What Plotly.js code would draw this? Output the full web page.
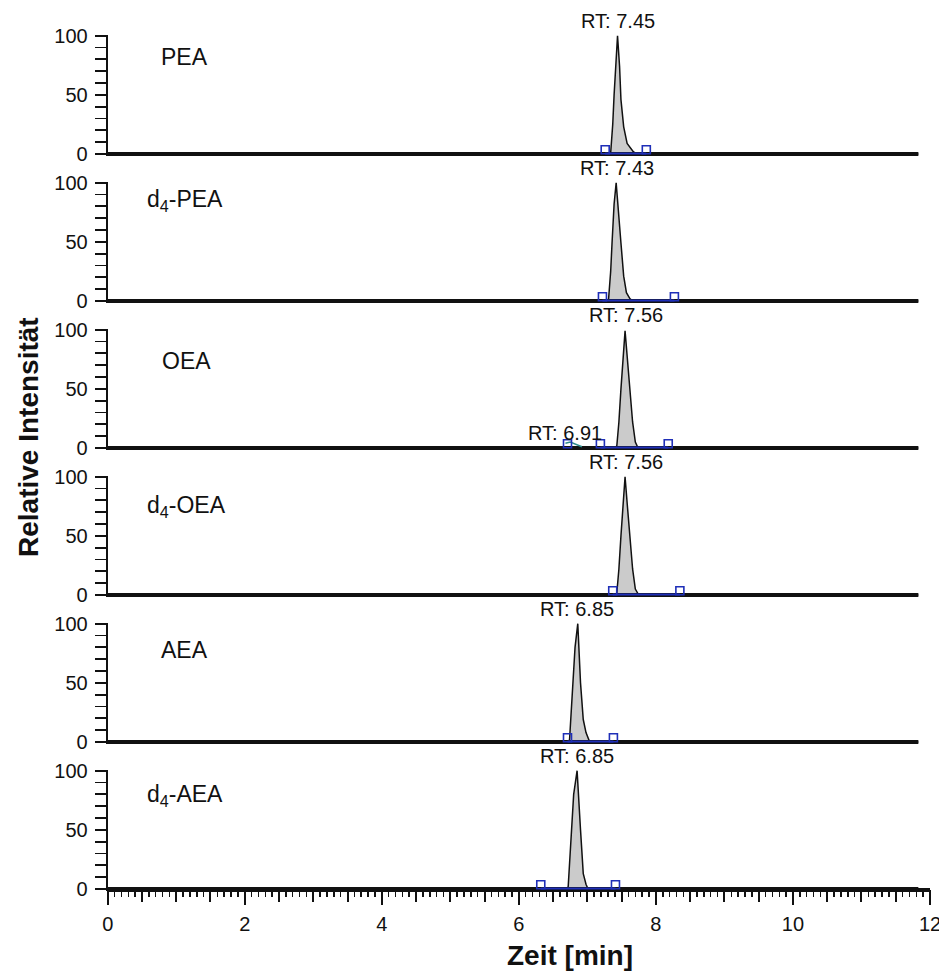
<!DOCTYPE html>
<html><head><meta charset="utf-8">
<script src="https://cdn.plot.ly/plotly-3.0.1.min.js"></script>
<style>html,body{margin:0;padding:0;background:#fff}#chart{width:939px;height:972px}</style>
</head><body><div id="chart"></div>
<script>
// ---- data ----
const compounds = ['PEA', 'd<sub>4</sub>-PEA', 'OEA', 'd<sub>4</sub>-OEA', 'AEA', 'd<sub>4</sub>-AEA'];
const rtLabels = ['RT: 7.45', 'RT: 7.43', 'RT: 7.56', 'RT: 7.56', 'RT: 6.85', 'RT: 6.85'];
const rtValues = [7.45, 7.43, 7.56, 7.56, 6.85, 6.85];

const peaTime   = [0, 7.30, 7.34, 7.37, 7.39, 7.42, 7.44, 7.47, 7.49, 7.53, 7.58, 7.67, 7.72, 11.83];
const peaInt    = [0, 0,    1,    25,   50,   85,   100,  74,   46,   23,   9,    2,    0,    0];
const d4peaTime = [0, 7.29, 7.31, 7.34, 7.36, 7.39, 7.42, 7.45, 7.49, 7.53, 7.57, 7.62, 7.66, 11.83];
const d4peaInt  = [0, 0,    2,    25,   49,   82,   100,  75,   49,   21,   7,    2,    0,    0];
const oeaTime   = [0, 7.41, 7.43, 7.46, 7.49, 7.52, 7.55, 7.58, 7.62, 7.66, 7.70, 7.74, 11.83];
const oeaInt    = [0, 0,    2,    22,   50,   80,   99,   78,   50,   22,   5,    0,    0];
const d4oeaTime = [0, 7.41, 7.43, 7.46, 7.49, 7.52, 7.55, 7.58, 7.62, 7.66, 7.70, 7.75, 11.83];
const d4oeaInt  = [0, 0,    2,    22,   50,   80,   100,  78,   50,   22,   5,    0,    0];
const aeaTime   = [0, 6.72, 6.74, 6.76, 6.79, 6.82, 6.86, 6.88, 6.90, 6.94, 6.98, 7.02, 7.05, 11.83];
const aeaInt    = [0, 0,    2,    22,   50,   80,   100,  75,   50,   19,   8,    2,    0,    0];
const d4aeaTime = [0, 6.70, 6.72, 6.74, 6.77, 6.80, 6.85, 6.87, 6.90, 6.94, 6.98, 7.01, 11.83];
const d4aeaInt  = [0, 0,    2,    22,   50,   80,   100,  75,   50,   13,   4,    0,    0];

// integration boundary markers (min) and integrated baseline segment
const boundaryMarks = [[7.26, 7.86], [7.22, 8.27], [6.71, 7.19, 8.18], [7.37, 8.35], [6.71, 7.38], [6.32, 7.41]];
const baselineSegs  = [[7.26, 7.86], [7.22, 8.27], [7.19, 8.18], [7.37, 8.35], [6.71, 7.38], [6.32, 7.41]];

// minor peak in OEA trace
const minorPeakLabel = 'RT: 6.91';
const minorPeakRT = 6.91;
const minorPeakTime = [6.68, 6.75, 6.92];
const minorPeakInt  = [4, 5, 1];

const xTickVals = [0, 2, 4, 6, 8, 10, 12];
const xTickText = ['0', '2', '4', '6', '8', '10', '12'];
const yTickVals = [0, 50, 100];

const times = [peaTime, d4peaTime, oeaTime, d4oeaTime, aeaTime, d4aeaTime];
const ints  = [peaInt, d4peaInt, oeaInt, d4oeaInt, aeaInt, d4aeaInt];

// ---- layout geometry ----
const W = 939, H = 972;
const zeroPx = [154, 301, 448, 595, 742, 889];
const pxPerUnit = 1.183;
const yLo = -1.8, yHi = 100.8;
const namePx = [[184, 56.5], [185, 200.5], [186, 361], [186, 506], [184, 650], [185, 796]];
const xDom = [107.7 / W, 930 / W];
const FONT = 'Liberation Sans, Arial, Helvetica, sans-serif';
const INK = '#111111';
const BLUE = '#1f2fb8';

const traces = [];
const layout = {
  width: W, height: H,
  margin: {l: 0, r: 0, t: 0, b: 0},
  paper_bgcolor: '#ffffff', plot_bgcolor: 'rgba(0,0,0,0)',
  showlegend: false,
  font: {family: FONT, color: INK, size: 20},
  annotations: []
};

for (let i = 0; i < 6; i++) {
  const n = i + 1;
  const xa = 'x' + n, ya = 'y' + n;
  const t = times[i], v = ints[i];
  // peak (filled)
  traces.push({x: t, y: v, xaxis: xa, yaxis: ya, type: 'scatter', mode: 'lines',
    fill: 'tozeroy', fillcolor: '#cbcbcb', line: {color: INK, width: 1.5},
    cliponaxis: false, hoverinfo: 'skip'});
  // thick baseline of the trace
  traces.push({x: [t[0], t[t.length - 1]], y: [0, 0], xaxis: xa, yaxis: ya, type: 'scatter',
    mode: 'lines', line: {color: INK, width: 4}, cliponaxis: false, hoverinfo: 'skip'});
  if (i === 2) {
    traces.push({x: minorPeakTime, y: minorPeakInt, xaxis: xa, yaxis: ya, type: 'scatter',
      mode: 'lines', line: {color: '#2e8b8b', width: 1.5}, cliponaxis: false, hoverinfo: 'skip'});
  }
  // integrated baseline (blue)
  traces.push({x: baselineSegs[i], y: [0.4, 0.4], xaxis: xa, yaxis: ya, type: 'scatter',
    mode: 'lines', line: {color: BLUE, width: 2.2}, cliponaxis: false, hoverinfo: 'skip'});
  // boundary markers
  traces.push({x: boundaryMarks[i], y: boundaryMarks[i].map(() => 3.6), xaxis: xa, yaxis: ya,
    type: 'scatter', mode: 'markers', cliponaxis: false, hoverinfo: 'skip',
    marker: {symbol: 'square-open', size: 8, color: BLUE, line: {color: BLUE, width: 1.6}}});

  const bottomPx = zeroPx[i] - yLo * pxPerUnit;
  const topPx = zeroPx[i] - yHi * pxPerUnit;
  layout['yaxis' + n] = {
    domain: [(H - bottomPx) / H, (H - topPx) / H], range: [yLo, yHi], anchor: xa,
    showline: true, linecolor: INK, linewidth: 2,
    ticks: 'outside', ticklen: 11, tickwidth: 2, tickcolor: INK,
    tickvals: yTickVals, ticktext: yTickVals.map(String), ticklabelstandoff: 3,
    tickfont: {family: FONT, size: 20, color: INK},
    minor: {tickvals: [10, 20, 30, 40, 60, 70, 80, 90], ticks: 'outside', ticklen: 11, tickwidth: 1.8, tickcolor: INK},
    showgrid: false, zeroline: false, fixedrange: true
  };
  if (i < 5) {
    layout['xaxis' + n] = {domain: xDom, range: [0, 12], anchor: ya, visible: false, fixedrange: true};
  } else {
    layout['xaxis' + n] = {
      domain: xDom, range: [0, 12], anchor: 'free', position: (H - zeroPx[i]) / H,
      layer: 'below traces',
      showline: true, linecolor: INK, linewidth: 3.5,
      ticks: 'outside', dtick: 0.5, tick0: 0, ticklen: 10, tickwidth: 2, tickcolor: INK,
      showticklabels: false,
      minor: {dtick: 0.1, tick0: 0, ticks: 'outside', ticklen: 5, tickwidth: 1.5, tickcolor: INK},
      showgrid: false, zeroline: false, fixedrange: true
    };
  }

  // compound name
  layout.annotations.push({xref: 'paper', yref: 'paper', x: namePx[i][0] / W, y: (H - namePx[i][1]) / H,
    xanchor: 'center', yanchor: 'middle', text: compounds[i], showarrow: false,
    font: {family: FONT, size: 23, color: INK}});
  // RT label
  layout.annotations.push({xref: xa, yref: ya, x: rtValues[i], y: 100, xanchor: 'center', yanchor: 'bottom',
    yshift: 2, text: rtLabels[i], showarrow: false, font: {family: FONT, size: 20, color: INK}});
}

// minor peak label in OEA panel
layout.annotations.push({xref: 'x3', yref: 'y3', x: minorPeakRT, y: 0, xanchor: 'center', yanchor: 'bottom',
  xshift: -16, yshift: 2, text: minorPeakLabel, showarrow: false, font: {family: FONT, size: 20, color: INK}});

// major x ticks with labels on an overlaying axis
layout.xaxis7 = {
  overlaying: 'x6', anchor: 'free', position: (H - zeroPx[5]) / H, range: [0, 12], domain: xDom,
  layer: 'below traces',
  ticks: 'outside', tickvals: xTickVals, ticktext: xTickText, ticklen: 15, tickwidth: 2.2, tickcolor: INK,
  showline: false, showgrid: false, zeroline: false, ticklabelstandoff: 2, ticklabeloverflow: 'allow',
  tickfont: {family: FONT, size: 20, color: INK}, fixedrange: true
};
traces.push({x: [null], y: [null], xaxis: 'x7', yaxis: 'y6', type: 'scatter', mode: 'lines', hoverinfo: 'skip'});

// axis titles
layout.annotations.push({xref: 'paper', yref: 'paper', x: 28 / W, y: (H - 437) / H, textangle: -90,
  xanchor: 'center', yanchor: 'middle', text: '<b>Relative Intensität</b>', showarrow: false,
  font: {family: FONT, size: 28, color: INK}});
layout.annotations.push({xref: 'paper', yref: 'paper', x: 570 / W, y: (H - 955) / H,
  xanchor: 'center', yanchor: 'middle', text: '<b>Zeit [min]</b>', showarrow: false,
  font: {family: FONT, size: 28, color: INK}});

Plotly.newPlot('chart', traces, layout, {staticPlot: true, displayModeBar: false});
</script>
</body></html>
